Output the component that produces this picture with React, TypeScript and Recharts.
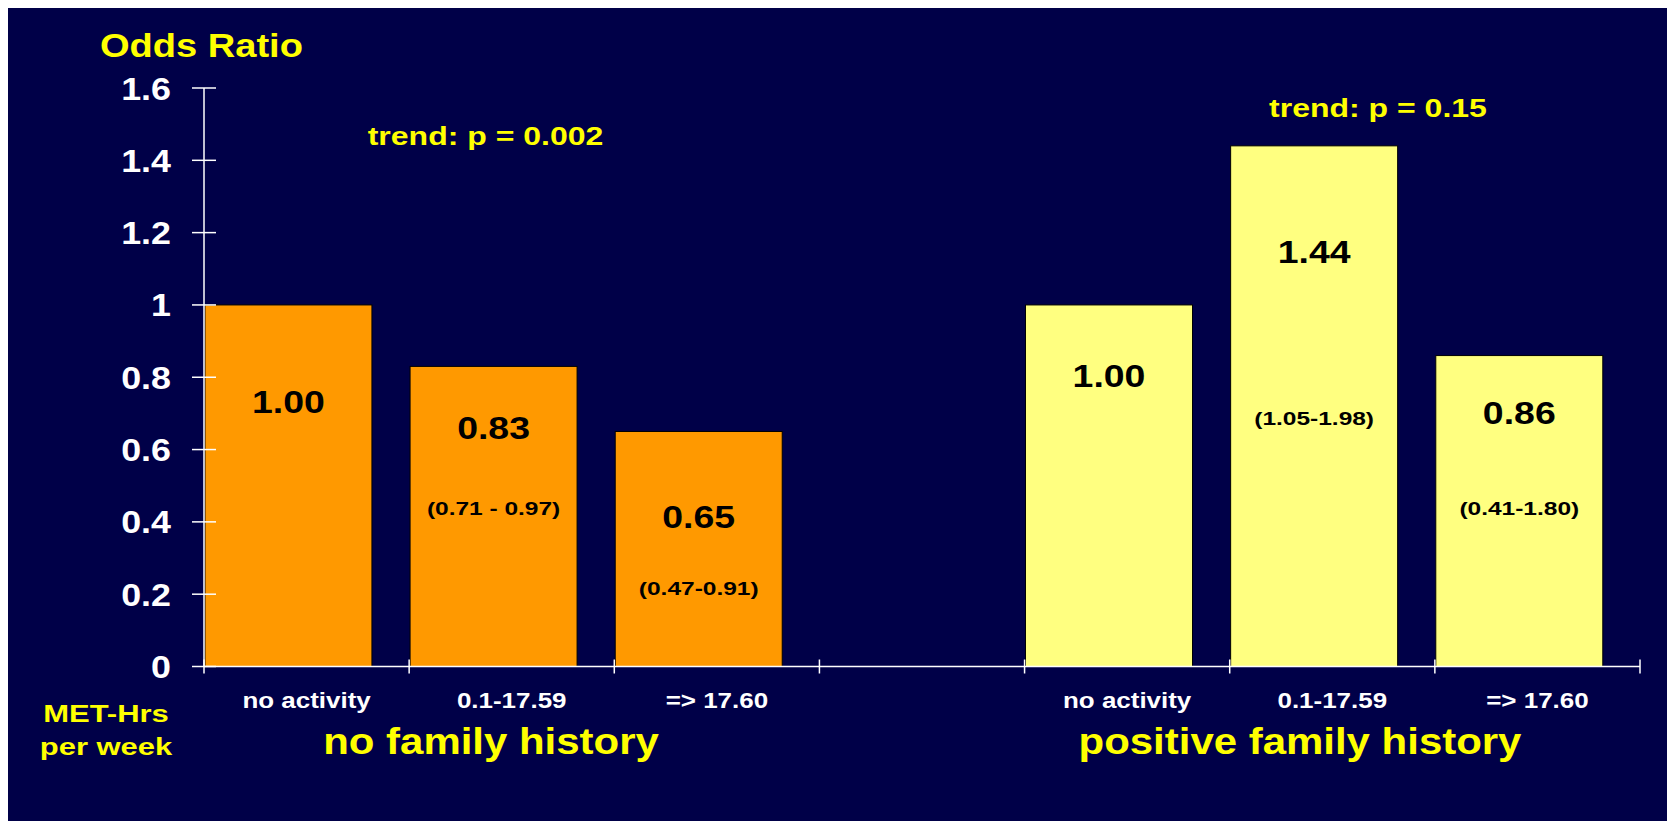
import { BarChart, Bar, XAxis, YAxis } from 'recharts';

// categories along the x axis (empty slot separates the two groups)
const categories = ['no activity', '0.1-17.59', '=> 17.60', '', 'no activity', '0.1-17.59', '=> 17.60'];
const groups = ['none', 'none', 'none', '', 'positive', 'positive', 'positive'];
const oddsRatios = [1.0, 0.83, 0.65, null, 1.0, 1.44, 0.86];
const valueLabels = ['1.00', '0.83', '0.65', '', '1.00', '1.44', '0.86'];
const ciLabels = ['', '(0.71 - 0.97)', '(0.47-0.91)', '', '', '(1.05-1.98)', '(0.41-1.80)'];
const yTicks = [0, 0.2, 0.4, 0.6, 0.8, 1, 1.2, 1.4, 1.6];

// where the in-bar labels sit, in odds-ratio units (baseline)
const valueLabelAt = [0.7, 0.628, 0.382, 0, 0.774, 1.115, 0.671];
const ciLabelAt = [0, 0.419, 0.198, 0, 0, 0.668, 0.419];

const NAVY = '#000048';
const YELLOW = '#FFFF00';
const groupFill: Record<string, string> = { none: '#FF9900', positive: '#FFFF80' };

const W = 1667;
const H = 813;
const LEFT = 196;
const RIGHT = 35;
const TOP = 80;
const BOTTOM = 154.5;
const X_AXIS_H = 30;
const PLOT_W = W - LEFT - RIGHT;
const BAND = PLOT_W / categories.length;
const BAR_W = 167;
const SHIFT = (BAND - BAR_W) / 2 - 1; // bars hug the left edge of their slot
const AXIS_Y = H - BOTTOM;
const FONT = '"Liberation Sans", Arial, sans-serif';

const rows = categories.map((cat, i) => ({
  cat,
  group: groups[i],
  value: oddsRatios[i],
  valueLabel: valueLabels[i],
  ci: ciLabels[i],
  valueAt: valueLabelAt[i],
  ciAt: ciLabelAt[i],
}));

function SText({ x, y, size, sx = 1, fill = '#fff', anchor = 'middle', children }: any) {
  return (
    <text
      transform={`translate(${x},${y}) scale(${sx},1)`}
      fontFamily={FONT}
      fontWeight="bold"
      fontSize={size}
      fill={fill}
      textAnchor={anchor}
    >
      {children}
    </text>
  );
}

function BarShape(props: any) {
  const { x, y, width, height, payload } = props;
  if (payload.value == null || !height) return <g />;
  const left = x - SHIFT;
  const cx = left + width / 2;
  const perUnit = height / payload.value;
  const base = y + height;
  return (
    <g>
      <rect x={left} y={y} width={width} height={height} fill={groupFill[payload.group]} stroke="#000" strokeWidth={1} />
      {payload.valueLabel && (
        <SText x={cx} y={base - payload.valueAt * perUnit} size={32} sx={1.17} fill="#000">
          {payload.valueLabel}
        </SText>
      )}
      {payload.ci && (
        <SText x={cx} y={base - payload.ciAt * perUnit} size={19} sx={1.29} fill="#000">
          {payload.ci}
        </SText>
      )}
    </g>
  );
}

function YTick(props: any) {
  const { y, payload } = props;
  const label = String(Number(payload.value.toFixed(1)));
  return (
    <g>
      <line x1={LEFT - 12} x2={LEFT + 12} y1={y} y2={y} stroke="#fff" strokeWidth={1.5} />
      <SText x={LEFT - 33} y={y + 11.5} size={32} sx={1.12} anchor="end">
        {label}
      </SText>
    </g>
  );
}

function XTick(props: any) {
  const { x, payload, index } = props;
  const i = index ?? payload.index;
  const last = i === categories.length - 1;
  return (
    <g>
      <line x1={x - BAND / 2} x2={x - BAND / 2} y1={AXIS_Y - 7} y2={AXIS_Y + 7} stroke="#fff" strokeWidth={1.5} />
      {last && <line x1={x + BAND / 2} x2={x + BAND / 2} y1={AXIS_Y - 7} y2={AXIS_Y + 7} stroke="#fff" strokeWidth={1.5} />}
      {payload.value && (
        <SText x={x} y={700} size={22} sx={1.18}>
          {payload.value}
        </SText>
      )}
    </g>
  );
}

export default function App() {
  return (
    <div style={{ position: 'relative', width: W, height: H, background: NAVY }}>
      <style>{'html,body{overflow:hidden}'}</style>
      <BarChart
        width={W}
        height={H}
        data={rows}
        margin={{ top: TOP, right: RIGHT, bottom: BOTTOM - X_AXIS_H, left: 0 }}
      >
        <XAxis
          dataKey="cat"
          height={X_AXIS_H}
          interval={0}
          axisLine={{ stroke: '#fff', strokeWidth: 1.5 }}
          tickLine={false}
          tick={(p: any) => <XTick {...p} />}
        />
        <YAxis
          width={LEFT}
          domain={[0, 1.6]}
          ticks={yTicks}
          interval={0}
          axisLine={{ stroke: '#fff', strokeWidth: 1.5 }}
          tickLine={false}
          tick={(p: any) => <YTick {...p} />}
        />
        <Bar dataKey="value" barSize={BAR_W} shape={(p: any) => <BarShape {...p} />} isAnimationActive={false} />
      </BarChart>
      <svg width={W} height={H} style={{ position: 'absolute', left: 0, top: 0, pointerEvents: 'none' }}>
        <SText x={92} y={49} size={33.5} sx={1.136} fill={YELLOW} anchor="start">Odds Ratio</SText>
        <SText x={477.5} y={137} size={25.6} sx={1.25} fill={YELLOW}>trend: p = 0.002</SText>
        <SText x={1370} y={109} size={25.6} sx={1.25} fill={YELLOW}>trend: p = 0.15</SText>
        <SText x={98} y={714} size={24} sx={1.29} fill={YELLOW}>MET-Hrs</SText>
        <SText x={98} y={747} size={24} sx={1.29} fill={YELLOW}>per week</SText>
        <SText x={483} y={746} size={37} sx={1.134} fill={YELLOW}>no family history</SText>
        <SText x={1292} y={746} size={37} sx={1.134} fill={YELLOW}>positive family history</SText>
      </svg>
    </div>
  );
}
